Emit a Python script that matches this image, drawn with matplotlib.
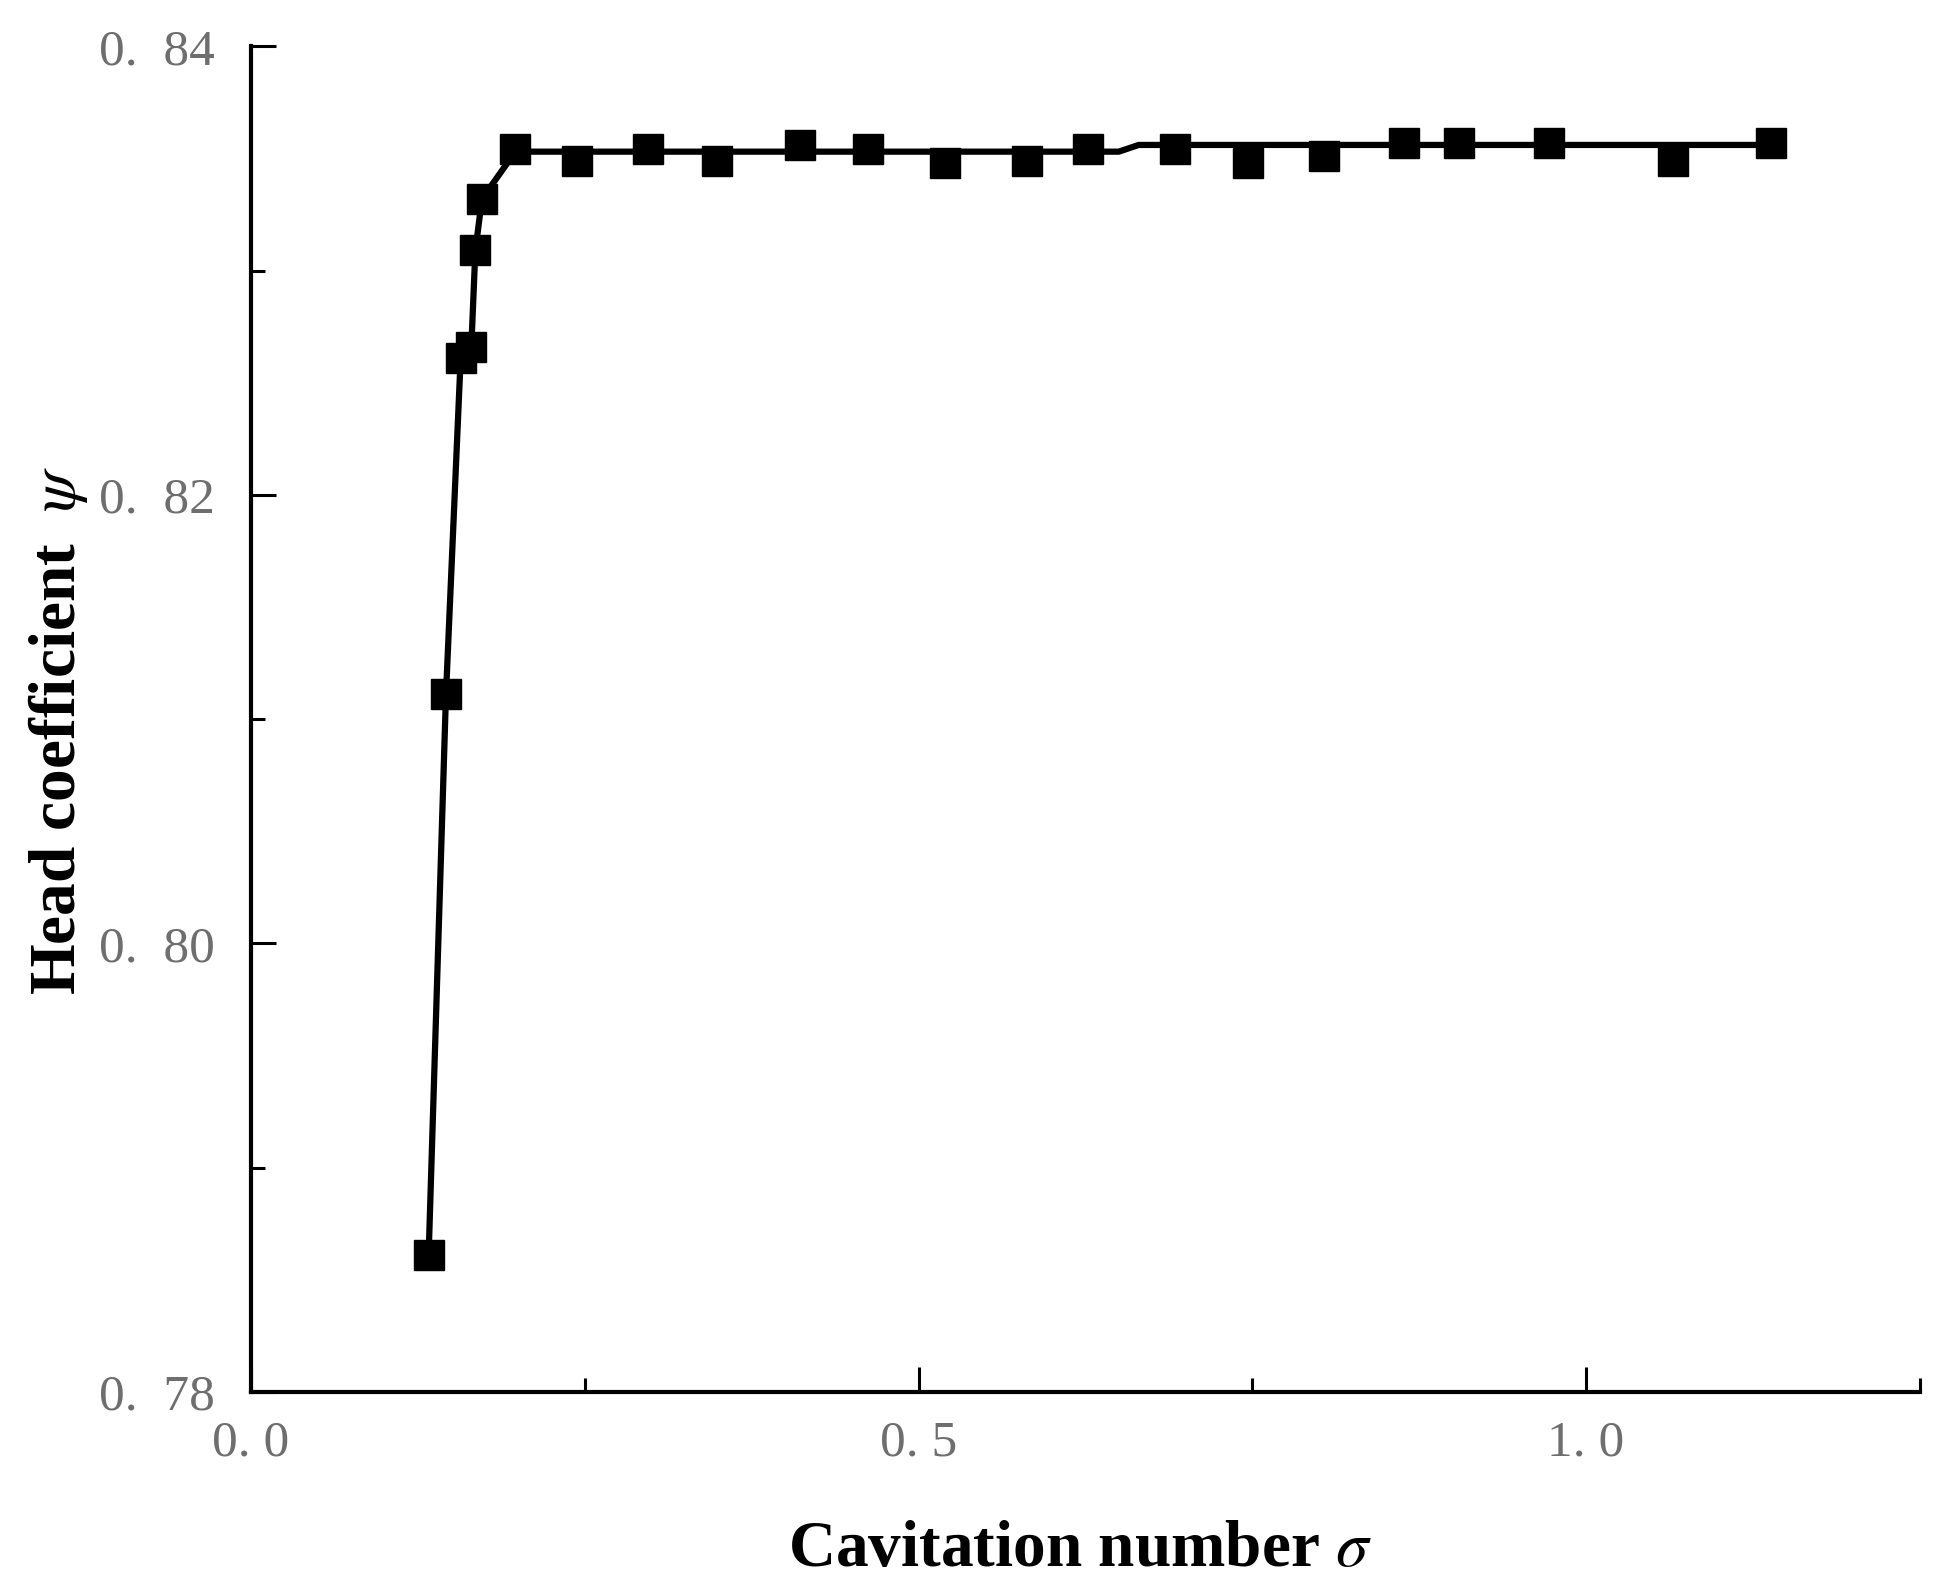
import matplotlib
matplotlib.use("Agg")
import matplotlib.pyplot as plt
from matplotlib.ticker import MultipleLocator, FuncFormatter

plt.rcParams['font.family'] = ['Liberation Serif', 'DejaVu Serif']
plt.rcParams['mathtext.fontset'] = 'stix'

# measured points
sigma = [0.133, 0.146, 0.157, 0.165, 0.168, 0.173, 0.198, 0.244, 0.297, 0.349,
         0.411, 0.462, 0.520, 0.581, 0.627, 0.692, 0.747, 0.804, 0.8635, 0.905,
         0.972, 1.065, 1.139]
psi = [0.7861, 0.8111, 0.8261, 0.8266, 0.8309, 0.8332, 0.8354, 0.8349, 0.8354, 0.8349,
       0.8356, 0.8354, 0.8348, 0.8349, 0.8354, 0.8354, 0.8348, 0.8351, 0.8357, 0.8357,
       0.8357, 0.8349, 0.8357]

# fitted curve
curve_sigma = [0.133, 0.146, 0.157, 0.165, 0.168, 0.173, 0.198, 0.650, 0.665, 1.139]
curve_psi = [0.7861, 0.8111, 0.8261, 0.8266, 0.8309, 0.8332, 0.8353, 0.8353, 0.8356, 0.8356]

fig = plt.figure(figsize=(19.39, 15.95), dpi=100)
ax = fig.add_axes([0.1295, 0.1273, 0.8605, 0.8437])

ax.plot(curve_sigma, curve_psi, color='black', linewidth=4.5, zorder=2)
ax.plot(sigma, psi, linestyle='none', marker='s', markersize=21,
        color='black', zorder=3)

ax.set_xlim(0, 1.25)
ax.set_ylim(0.78, 0.84)

ax.xaxis.set_major_locator(MultipleLocator(0.5))
ax.xaxis.set_minor_locator(MultipleLocator(0.25))
ax.yaxis.set_major_locator(MultipleLocator(0.02))
ax.yaxis.set_minor_locator(MultipleLocator(0.01))
ax.xaxis.set_major_formatter(FuncFormatter(lambda v, p: "{:.1f}".format(v).replace('.', '. ')))
ax.yaxis.set_major_formatter(FuncFormatter(lambda v, p: "{:.2f}".format(v).replace('.', '.  ')))

for s in ['top', 'right']:
    ax.spines[s].set_visible(False)
for s in ['left', 'bottom']:
    ax.spines[s].set_linewidth(3)

ax.tick_params(which='major', direction='in', length=18, width=2.2,
               labelsize=37, labelcolor='#6e6e6e')
ax.tick_params(axis='y', which='major', pad=26)
ax.tick_params(axis='x', which='major', pad=20)
ax.tick_params(which='minor', direction='in', length=10, width=2.2)

fig.text(0.557, 0.028, r"Cavitation number $\sigma$", ha='center', va='center',
         fontsize=47, fontweight='bold')
fig.text(0.030, 0.542, r"Head coefficient  $\psi$", ha='center', va='center',
         rotation=90, fontsize=47, fontweight='bold')

fig.savefig("out.png", dpi=100)
